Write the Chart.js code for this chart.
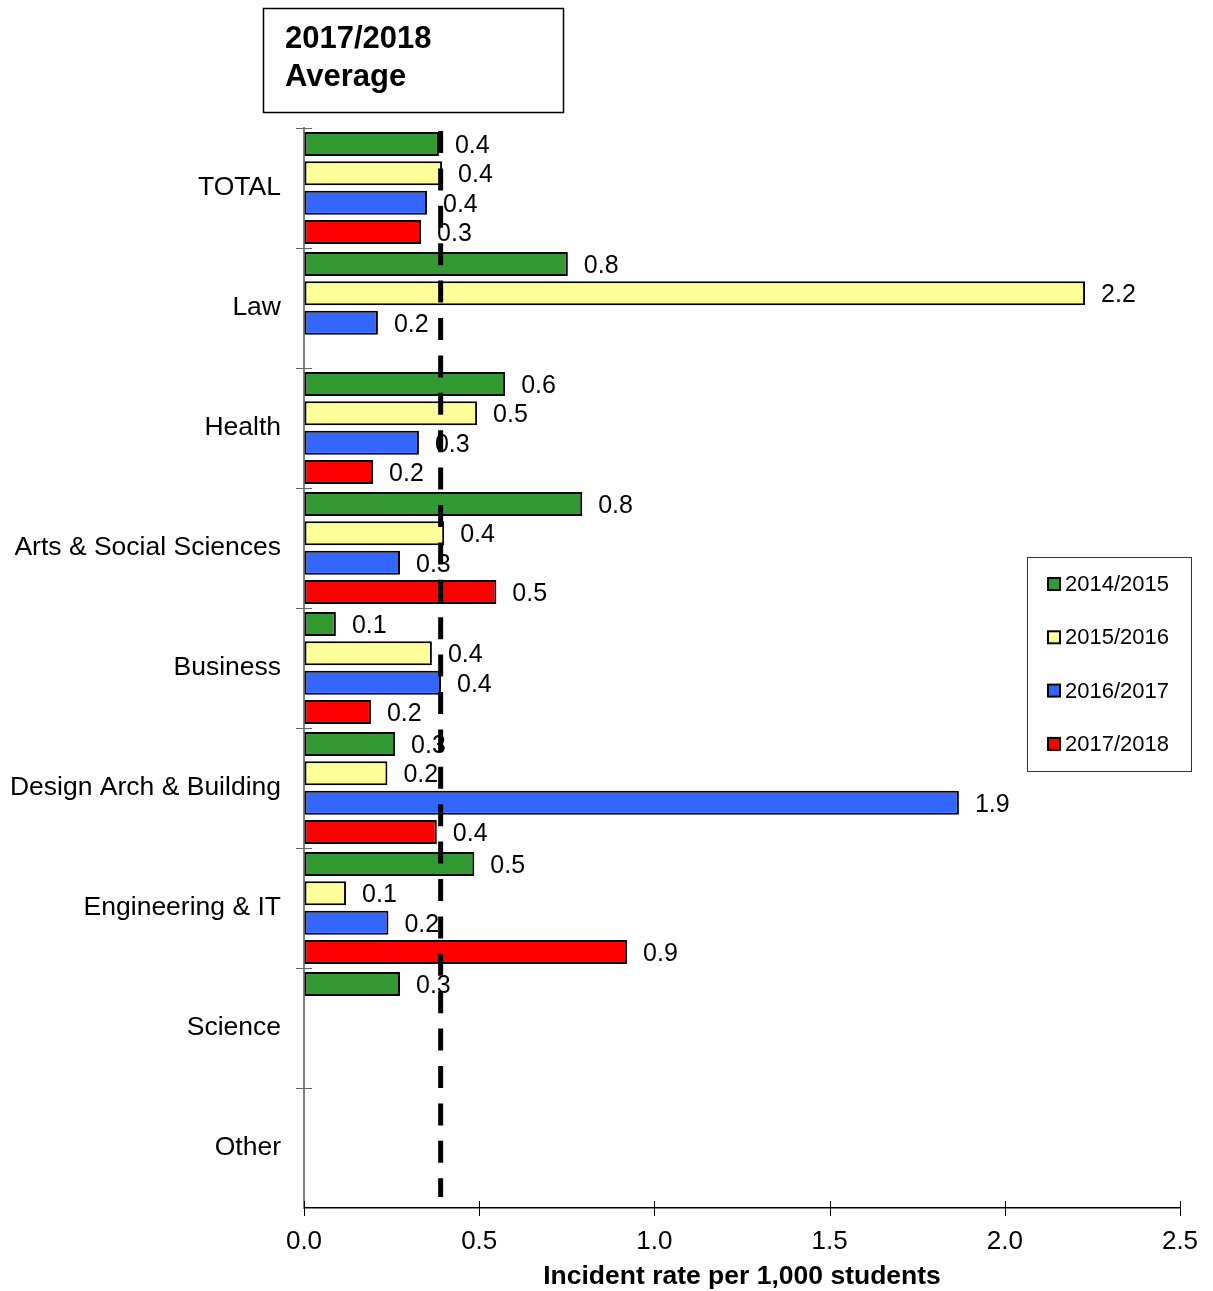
<!DOCTYPE html>
<html>
<head>
<meta charset="utf-8">
<title>Incident rate per 1,000 students</title>
<script src="https://cdn.jsdelivr.net/npm/chart.js@4.4.0/dist/chart.umd.min.js"></script>
<style>
  body { margin: 0; background: #fff; }
  canvas { display: block; }
</style>
</head>
<body>
<canvas id="incidents" width="1213" height="1291"></canvas>
<script>
const categories = ['TOTAL', 'Law', 'Health', 'Arts & Social Sciences', 'Business',
    'Design Arch & Building', 'Engineering & IT', 'Science', 'Other'];
const seasons = ['2014/2015', '2015/2016', '2016/2017', '2017/2018'];

// incident rate per 1,000 students, one array per academic year
const rate_1415 = [0.385, 0.753, 0.574, 0.794, 0.091, 0.26, 0.486, 0.274, null];
const rate_1516 = [0.394, 2.229, 0.494, 0.40, 0.365, 0.238, 0.12, null, null];
const rate_1617 = [0.351, 0.211, 0.328, 0.274, 0.391, 1.869, 0.241, null, null];
const rate_1718 = [0.334, null, 0.197, 0.549, 0.191, 0.379, 0.922, null, null];

const average_1718 = 0.39;
const average_text = ['2017/2018', 'Average'];
const x_title = 'Incident rate per 1,000 students';

const colors = ['#339933', '#FFFF99', '#3366FF', '#FF0000'];
const font_family = "'Liberation Sans', Arial, sans-serif";

const series = [rate_1415, rate_1516, rate_1617, rate_1718];

// value labels, dashed average line, axis tick crosses, legend and note box
const extras = {
    id: 'extras',
    afterDatasetsDraw(chart) {
        const { ctx, chartArea: area, scales: { x } } = chart;
        ctx.save();

        ctx.lineWidth = 1;
        ctx.strokeStyle = '#000';
        x.ticks.forEach(t => {
            const px = Math.round(x.getPixelForValue(t.value)) + 0.5;
            ctx.beginPath();
            ctx.moveTo(px, area.bottom - 7);
            ctx.lineTo(px, area.bottom + 8);
            ctx.stroke();
        });
        ctx.strokeStyle = '#666';
        const band = (area.bottom - area.top) / categories.length;
        for (let i = 0; i < categories.length; i++) {
            const py = Math.round(area.top + i * band) + 0.5;
            ctx.beginPath();
            ctx.moveTo(area.left - 8, py);
            ctx.lineTo(area.left + 8, py);
            ctx.stroke();
        }

        ctx.font = '25px ' + font_family;
        ctx.fillStyle = '#000';
        ctx.textAlign = 'left';
        ctx.textBaseline = 'middle';
        chart.data.datasets.forEach((ds, i) => {
            chart.getDatasetMeta(i).data.forEach((bar, j) => {
                const v = ds.data[j];
                if (v === null) return;
                ctx.fillText(v.toFixed(1), bar.x + 16, bar.y + 2);
            });
        });

        const ax = x.getPixelForValue(average_1718);
        ctx.strokeStyle = '#000';
        ctx.lineWidth = 5;
        ctx.setLineDash([22, 15.4]);
        ctx.beginPath();
        ctx.moveTo(ax, area.top + 3);
        ctx.lineTo(ax, area.bottom - 11);
        ctx.stroke();
        ctx.setLineDash([]);

        // note box above the plot
        ctx.lineWidth = 1.5;
        ctx.strokeRect(263.5, 8.5, 300, 104);
        ctx.font = 'bold 31px ' + font_family;
        ctx.textBaseline = 'alphabetic';
        ctx.fillText(average_text[0], 285, 48);
        ctx.fillText(average_text[1], 285, 86);

        // legend
        ctx.lineWidth = 1;
        ctx.strokeStyle = '#333';
        ctx.strokeRect(1027.5, 557.5, 164, 214);
        ctx.font = '22px ' + font_family;
        ctx.textBaseline = 'middle';
        chart.data.datasets.forEach((ds, i) => {
            const cy = 584 + i * 53.3;
            ctx.fillStyle = ds.backgroundColor;
            ctx.fillRect(1048, cy - 6, 12, 12);
            ctx.strokeStyle = '#000';
            ctx.lineWidth = 2;
            ctx.strokeRect(1048, cy - 6, 12, 12);
            ctx.fillStyle = '#000';
            ctx.fillText(ds.label, 1065, cy + 1);
        });

        ctx.restore();
    }
};

const incidents_chart = new Chart(document.getElementById('incidents').getContext('2d'), {
    type: 'bar',
    data: {
        labels: categories,
        datasets: series.map((data, i) => ({
            label: seasons[i],
            data: data,
            backgroundColor: colors[i],
            borderColor: '#000',
            borderWidth: 2,
            borderSkipped: false,
            categoryPercentage: 0.977,
            barPercentage: 0.82,
        })),
    },
    options: {
        indexAxis: 'y',
        responsive: false,
        animation: false,
        layout: {
            padding: { top: 128, right: 33, left: 0, bottom: 0 },
        },
        plugins: {
            legend: { display: false },
            tooltip: { enabled: false },
        },
        scales: {
            x: {
                min: 0,
                max: 2.5,
                ticks: {
                    stepSize: 0.5,
                    padding: 10,
                    color: '#000',
                    font: { size: 26, family: font_family },
                    callback: v => Number(v).toFixed(1),
                },
                grid: { drawOnChartArea: false, color: 'rgba(0,0,0,0)', tickLength: 8 },
                border: { color: '#000', width: 1.5 },
                title: {
                    display: true,
                    text: x_title,
                    color: '#000',
                    font: { size: 26.5, weight: 'bold', family: font_family },
                    padding: { top: 0, bottom: -2 },
                },
                afterFit: scale => { scale.height = 83; },
            },
            y: {
                ticks: {
                    padding: 15,
                    color: '#000',
                    font: { size: 26.5, family: font_family },
                },
                grid: { drawOnChartArea: false, color: 'rgba(0,0,0,0)', tickLength: 8 },
                border: { color: '#808080', width: 2 },
                afterFit: scale => { scale.width = 304; },
            },
        },
    },
    plugins: [extras],
});
</script>
</body>
</html>
